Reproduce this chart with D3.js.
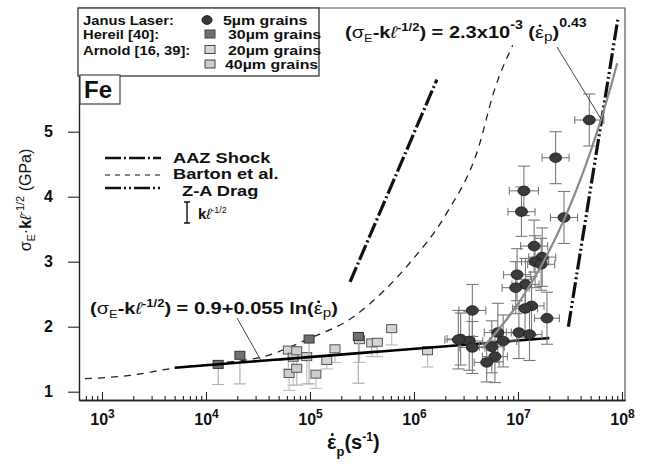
<!DOCTYPE html>
<html>
<head>
<meta charset="utf-8">
<script src="https://cdn.jsdelivr.net/npm/d3@7"></script>
<style>
  html, body { margin: 0; padding: 0; background: #fff; }
  svg { display: block; font-family: "Liberation Sans", Arial, sans-serif; }
</style>
</head>
<body>
<svg id="chart" width="647" height="464"></svg>
<script>
// Janus laser, 5 µm grains: strain rate (1/s), stress (GPa), log-rate error (decades), stress error (GPa)
const laserRate = [4.85e7, 2.30e7, 1.14e7, 1.08e7, 2.77e7, 1.43e7, 1.71e7, 1.46e7, 1.67e7, 9.8e6,
                   1.18e7, 9.5e6, 3.64e6, 1.35e7, 1.17e7, 1.9e7, 6.4e6, 1.02e7, 1.29e7, 2.81e6,
                   3.40e6, 7.2e6, 3.64e6, 5.6e6, 6.0e6, 5.0e6, 2.67e6];
const laserStress = [5.18, 4.60, 4.09, 3.77, 3.68, 3.24, 3.07, 3.00, 2.96, 2.80,
                     2.65, 2.60, 2.25, 2.32, 2.28, 2.13, 1.91, 1.91, 1.88, 1.81,
                     1.78, 1.78, 1.68, 1.69, 1.54, 1.45, 1.80];
const laserRateErr = [0.14, 0.13, 0.14, 0.13, 0.13, 0.13, 0.13, 0.13, 0.13, 0.13,
                      0.13, 0.13, 0.13, 0.12, 0.12, 0.12, 0.13, 0.12, 0.12, 0.13,
                      0.13, 0.13, 0.12, 0.12, 0.12, 0.12, 0.13];
const laserStressErr = [0.40, 0.40, 0.38, 0.38, 0.40, 0.40, 0.45, 0.40, 0.40, 0.40,
                        0.40, 0.40, 0.40, 0.45, 0.45, 0.40, 0.45, 0.40, 0.40, 0.40,
                        0.45, 0.40, 0.40, 0.40, 0.40, 0.30, 0.45];

// Hereil 30 µm grains
const hereilRate = [1.31e4, 2.12e4, 9.8e4, 2.92e5];
const hereilStress = [1.42, 1.56, 1.81, 1.85];
const hereilLow = [1.11, 1.12, 1.12, 1.13];

// Arnold 20 µm grains
const arnold20Rate = [6.3e4, 7.45e4, 6.9e4, 7.45e4, 9.3e4, 1.14e5];
const arnold20Stress = [1.28, 1.36, 1.53, 1.63, 1.54, 1.27];
const arnold20Low = [1.02, 1.10, 1.10, 1.10, 1.12, 1.05];

// Arnold 40 µm grains
const arnold40Rate = [6.2e4, 1.45e5, 1.74e5, 2.99e5, 3.92e5, 4.44e5, 6.1e5, 1.35e6];
const arnold40Stress = [1.64, 1.48, 1.66, 1.80, 1.75, 1.76, 1.97, 1.63];
const arnold40Low = [1.35, 1.35, 1.45, 1.45, 1.54, 1.54, 1.72, 1.38];

// Model curves
const bartonRate = [687, 1860, 4800, 1.35e4, 3.8e4, 9.3e4, 2.6e5, 5.2e5, 9.1e5, 2.05e6, 4.2e6, 5.8e6, 8.9e6];
const bartonStress = [1.20, 1.25, 1.36, 1.44, 1.55, 1.80, 2.15, 2.56, 2.98, 3.74, 4.77, 5.59, 6.33];
const aazRate = [2.43e5, 1.66e6];
const aazStress = [2.69, 5.80];
const zaRate = [3.05e7, 9.2e7];
const zaStress = [2.00, 6.77];

// Fits
const logFit = { a: 0.9, b: 0.055, from: 5e3, to: 2e7 };
const powFit = { c: 2.3e-3, n: 0.43, from: 4.5e6, to: 9.0e7 };

const xMajor = [1e3, 1e4, 1e5, 1e6, 1e7, 1e8];
const yTicks = [1, 2, 3, 4, 5];

const svg = d3.select("#chart");
const pLeft = 79, pRight = 625, pTop = 8, pBottom = 400;
const SX = 1.18; // horizontal stretch applied to annotation text

const x = d3.scaleLog().domain([Math.pow(10, 2.779), Math.pow(10, 8.029)]).range([pLeft, pRight]);
const y = d3.scaleLinear().domain([0.872, 6.903]).range([pBottom, pTop]);

// Text helper: bold text placed at (px, py), widened horizontally
function wideText(px, py, size, sx) {
  return svg.append("g").attr("transform", `translate(${px},${py}) scale(${sx},1)`)
    .append("text").attr("font-size", size).attr("font-weight", "bold").attr("fill", "#111");
}
// Strain-rate symbol: epsilon, with its overdot drawn as a small disc once the text is laid out
const dotJobs = [];
function epsDot(t, weight, size) {
  const idx = t.node().textContent.length;
  t.append("tspan").attr("font-weight", weight).text("\u03B5");
  dotJobs.push({ t, idx, size });
}
function placeDots() {
  dotJobs.forEach(j => {
    const node = j.t.node();
    const p = node.getStartPositionOfChar(j.idx);
    const w = node.getSubStringLength(j.idx, 1);
    d3.select(node.parentNode).append("circle")
      .attr("cx", p.x + w * 0.55).attr("cy", p.y - j.size * 0.72)
      .attr("r", j.size * 0.075).attr("fill", "#111");
  });
}

// Frame (top and right)
svg.append("path")
  .attr("d", `M${pLeft},${pTop}H${pRight}V${pBottom}`)
  .attr("fill", "none").attr("stroke", "#555").attr("stroke-width", 1.2);

// X axis: ticks point inward
const minor = [];
for (let e = 2; e <= 7; e++) for (let m = 2; m <= 9; m++) {
  const v = m * Math.pow(10, e);
  if (v >= x.domain()[0] && v <= x.domain()[1]) minor.push(v);
}
const xAxisMinor = d3.axisBottom(x).tickValues(minor).tickSize(-4).tickSizeOuter(0).tickFormat("");
const xAxisMajor = d3.axisBottom(x).tickValues(xMajor).tickSize(-8).tickSizeOuter(0).tickPadding(14).tickFormat("");
const gxm = svg.append("g").attr("transform", `translate(0,${pBottom})`).call(xAxisMinor);
const gx = svg.append("g").attr("transform", `translate(0,${pBottom})`).call(xAxisMajor);
[gxm, gx].forEach(g => {
  g.select(".domain").attr("stroke", "#222").attr("stroke-width", 1.4);
  g.selectAll(".tick line").attr("stroke", "#222").attr("stroke-width", 1.1);
});
gx.selectAll(".tick text")
  .attr("font-size", 16).attr("font-weight", "bold").attr("fill", "#111")
  .each(function(d) {
    const t = d3.select(this);
    t.append("tspan").text("10");
    t.append("tspan").attr("dy", -7).attr("font-size", 12).text(Math.round(Math.log10(d)));
  });

// Y axis: ticks point outward
const gy = svg.append("g").attr("transform", `translate(${pLeft},0)`)
  .call(d3.axisLeft(y).tickValues(yTicks).tickFormat(d3.format("d")).tickSize(11).tickSizeOuter(0).tickPadding(15));
gy.select(".domain").attr("stroke", "#222").attr("stroke-width", 1.4);
gy.selectAll(".tick line").attr("stroke", "#222").attr("stroke-width", 1.1);
gy.selectAll(".tick text").attr("font-size", 16).attr("font-weight", "bold").attr("fill", "#111");

// Axis titles
const xt = svg.append("text").attr("x", 327).attr("y", 449)
  .attr("font-size", 20).attr("font-weight", "bold").attr("fill", "#111");
epsDot(xt, "bold", 20);
xt.append("tspan").attr("dy", 7).attr("font-size", 13).text("p");
xt.append("tspan").attr("dy", -7).text("(s");
xt.append("tspan").attr("dy", -8).attr("font-size", 12).text("-1");
xt.append("tspan").attr("dy", 8).text(")");

const yt = svg.append("text").attr("transform", "translate(31,200) rotate(-90)")
  .attr("text-anchor", "middle").attr("font-size", 16).attr("fill", "#111");
yt.append("tspan").text("\u03C3");
yt.append("tspan").attr("dy", 4).attr("font-size", 11).text("E");
yt.append("tspan").attr("dy", -4).text("\u00B7");
yt.append("tspan").attr("font-weight", "bold").text("k");
yt.append("tspan").attr("font-style", "italic").text("\u2113");
yt.append("tspan").attr("dy", -7).attr("font-size", 11).text("-1/2");
yt.append("tspan").attr("dy", 7).text(" (GPa)");

// Model lines
const line = d3.line().x(d => x(d[0])).y(d => y(d[1]));
const bartonPts = bartonRate.map((r, i) => [r, bartonStress[i]]);
svg.append("path").datum(bartonPts)
  .attr("d", line.curve(d3.curveMonotoneX))
  .attr("fill", "none").attr("stroke", "#222").attr("stroke-width", 1.3).attr("stroke-dasharray", "7,6");
line.curve(d3.curveLinear);
svg.append("path").datum(aazRate.map((r, i) => [r, aazStress[i]]))
  .attr("d", line).attr("fill", "none").attr("stroke", "#111").attr("stroke-width", 3.2)
  .attr("stroke-dasharray", "16,3,2,3");
svg.append("path").datum(zaRate.map((r, i) => [r, zaStress[i]]))
  .attr("d", line).attr("fill", "none").attr("stroke", "#111").attr("stroke-width", 3.2)
  .attr("stroke-dasharray", "16,3,2,3,2,3");

// Square data sets with downward bars
function squares(rates, stresses, lows, fill, stroke, barColor) {
  const g = svg.append("g");
  rates.forEach((r, i) => {
    g.append("line").attr("x1", x(r)).attr("x2", x(r)).attr("y1", y(stresses[i])).attr("y2", y(lows[i]))
      .attr("stroke", barColor).attr("stroke-width", 1.2);
    g.append("line").attr("x1", x(r) - 6).attr("x2", x(r) + 6).attr("y1", y(lows[i])).attr("y2", y(lows[i]))
      .attr("stroke", barColor).attr("stroke-width", 1.2);
  });
  rates.forEach((r, i) => {
    g.append("rect").attr("x", x(r) - 5).attr("y", y(stresses[i]) - 4).attr("width", 10).attr("height", 8)
      .attr("fill", fill).attr("stroke", stroke).attr("stroke-width", 1);
  });
}
squares(arnold40Rate, arnold40Stress, arnold40Low, "#d4d4d4", "#555", "#bdbdbd");
squares(arnold20Rate, arnold20Stress, arnold20Low, "#cdcdcd", "#555", "#c4c4c4");
squares(hereilRate, hereilStress, hereilLow, "#6f6f6f", "#333", "#b0b0b0");

// Logarithmic fit
const logPts = d3.range(0, 61).map(i => {
  const r = logFit.from * Math.pow(logFit.to / logFit.from, i / 60);
  return [r, logFit.a + logFit.b * Math.log(r)];
});
svg.append("path").datum(logPts).attr("d", line)
  .attr("fill", "none").attr("stroke", "#000").attr("stroke-width", 2.6);

// Laser points with error bars
const gl = svg.append("g");
laserRate.forEach((r, i) => {
  const cx = x(r), cy = y(laserStress[i]);
  const x0 = x(r / Math.pow(10, laserRateErr[i])), x1 = x(r * Math.pow(10, laserRateErr[i]));
  const y0 = y(laserStress[i] - laserStressErr[i]), y1 = y(laserStress[i] + laserStressErr[i]);
  const st = { stroke: "#7a7a7a", w: 1.1 };
  gl.append("line").attr("x1", x0).attr("x2", x1).attr("y1", cy).attr("y2", cy).attr("stroke", st.stroke).attr("stroke-width", st.w);
  gl.append("line").attr("x1", cx).attr("x2", cx).attr("y1", y0).attr("y2", y1).attr("stroke", st.stroke).attr("stroke-width", st.w);
  [x0, x1].forEach(xx => gl.append("line").attr("x1", xx).attr("x2", xx).attr("y1", cy - 4).attr("y2", cy + 4).attr("stroke", st.stroke).attr("stroke-width", st.w));
  [y0, y1].forEach(yy => gl.append("line").attr("x1", cx - 6).attr("x2", cx + 6).attr("y1", yy).attr("y2", yy).attr("stroke", st.stroke).attr("stroke-width", st.w));
});

// Power-law fit
const powPts = d3.range(0, 61).map(i => {
  const r = powFit.from * Math.pow(powFit.to / powFit.from, i / 60);
  return [r, powFit.c * Math.pow(r, powFit.n)];
});
svg.append("path").datum(powPts).attr("d", line)
  .attr("fill", "none").attr("stroke", "#8a8a8a").attr("stroke-width", 2.2);

laserRate.forEach((r, i) => {
  gl.append("ellipse").attr("cx", x(r)).attr("cy", y(laserStress[i])).attr("rx", 6).attr("ry", 4.8)
    .attr("fill", "#3a3a3a").attr("stroke", "#1a1a1a").attr("stroke-width", 0.8);
});

// Formula annotations
function formula(px, py, tail) {
  const t = wideText(px, py, 17, SX);
  t.append("tspan").text("(");
  t.append("tspan").attr("font-weight", "normal").text("\u03C3");
  t.append("tspan").attr("dy", 4).attr("font-size", 11).attr("font-weight", "normal").text("E");
  t.append("tspan").attr("dy", -4).text("-k");
  t.append("tspan").attr("font-style", "italic").attr("font-weight", "normal").text("\u2113");
  t.append("tspan").attr("dy", -7).attr("font-size", 11).text("-1/2");
  t.append("tspan").attr("dy", 7).text(")");
  tail(t);
}
formula(345, 38, t => {
  t.append("tspan").text(" = 2.3x10");
  t.append("tspan").attr("dy", -9).attr("font-size", 12).text("-3");
  t.append("tspan").attr("dy", 9).text(" (");
  epsDot(t, "normal", 17);
  t.append("tspan").attr("dy", 3).attr("font-size", 13).attr("font-weight", "normal").text("p");
  t.append("tspan").attr("dy", -3).text(")");
  t.append("tspan").attr("dy", -11).attr("font-size", 12).text("0.43");
});
formula(90, 314, t => {
  t.append("tspan").text(" = 0.9+0.055 ln(");
  epsDot(t, "normal", 17);
  t.append("tspan").attr("dy", 3).attr("font-size", 13).attr("font-weight", "normal").text("p");
  t.append("tspan").attr("dy", -3).text(")");
});
placeDots();
// Leader lines to the fits
svg.append("line").attr("x1", 557).attr("y1", 47).attr("x2", x(6.3e7)).attr("y2", y(powFit.c * Math.pow(6.3e7, powFit.n)))
  .attr("stroke", "#333").attr("stroke-width", 0.9);
svg.append("line").attr("x1", 237).attr("y1", 318).attr("x2", x(3.4e4)).attr("y2", y(logFit.a + logFit.b * Math.log(3.4e4)))
  .attr("stroke", "#333").attr("stroke-width", 0.9);

// Legend box
svg.append("rect").attr("x", 78).attr("y", 8).attr("width", 241).attr("height", 68)
  .attr("fill", "#fff").attr("stroke", "#444").attr("stroke-width", 1.4);
const legRows = [
  { label: "Janus Laser:", y: 24.5, mark: "circle", fill: "#3a3a3a", text: "5\u00B5m grains", tx: 223 },
  { label: "Hereil [40]:", y: 39, mark: "square", fill: "#6f6f6f", text: "30\u00B5m grains", tx: 228 },
  { label: "Arnold [16, 39]:", y: 54.5, mark: "square", fill: "#d8d8d8", text: "20\u00B5m grains", tx: 228 },
  { label: "", y: 69, mark: "square", fill: "#cccccc", text: "40\u00B5m grains", tx: 225 }
];
legRows.forEach(r => {
  if (r.label) wideText(83, r.y, 12.5, SX).text(r.label);
  if (r.mark === "circle") svg.append("ellipse").attr("cx", 207).attr("cy", r.y - 4.5).attr("rx", 5).attr("ry", 4.3).attr("fill", r.fill).attr("stroke", "#111");
  else svg.append("rect").attr("x", 205).attr("y", r.y - 9).attr("width", 10).attr("height", 8).attr("fill", r.fill).attr("stroke", "#444");
  wideText(r.tx, r.y, 13.5, SX).text(r.text);
});

// Material label
svg.append("rect").attr("x", 80).attr("y", 75).attr("width", 40).attr("height", 29)
  .attr("fill", "#fff").attr("stroke", "#444").attr("stroke-width", 1.2);
svg.append("text").attr("x", 84).attr("y", 98).attr("font-size", 24).attr("font-weight", "bold").attr("fill", "#111").text("Fe");

// Model line key
const keys = [
  { y: 158, ty: 162.5, dash: "16,3,2,3", w: 2.6, text: "AAZ Shock", tx: 173 },
  { y: 175, ty: 179, dash: "5,5", w: 1.2, text: "Barton et al.", tx: 173 },
  { y: 188, ty: 195.5, dash: "16,3,2,3,2,3", w: 2.6, text: "Z-A Drag", tx: 182 }
];
keys.forEach(k => {
  svg.append("line").attr("x1", 105).attr("x2", 161).attr("y1", k.y).attr("y2", k.y)
    .attr("stroke", "#111").attr("stroke-width", k.w).attr("stroke-dasharray", k.dash);
  wideText(k.tx, k.ty, 14.5, 1.26).text(k.text);
});
// Grain-size term marker
svg.append("path").attr("d", "M184,202H190M187,202V223M184,223H190").attr("stroke", "#111").attr("stroke-width", 1.4).attr("fill", "none");
const kt = svg.append("text").attr("x", 198).attr("y", 219).attr("font-size", 15).attr("fill", "#111");
kt.append("tspan").attr("font-weight", "bold").text("k");
kt.append("tspan").attr("font-style", "italic").text("\u2113");
kt.append("tspan").attr("dy", -6).attr("font-size", 9).text("-1/2");
</script>
</body>
</html>
